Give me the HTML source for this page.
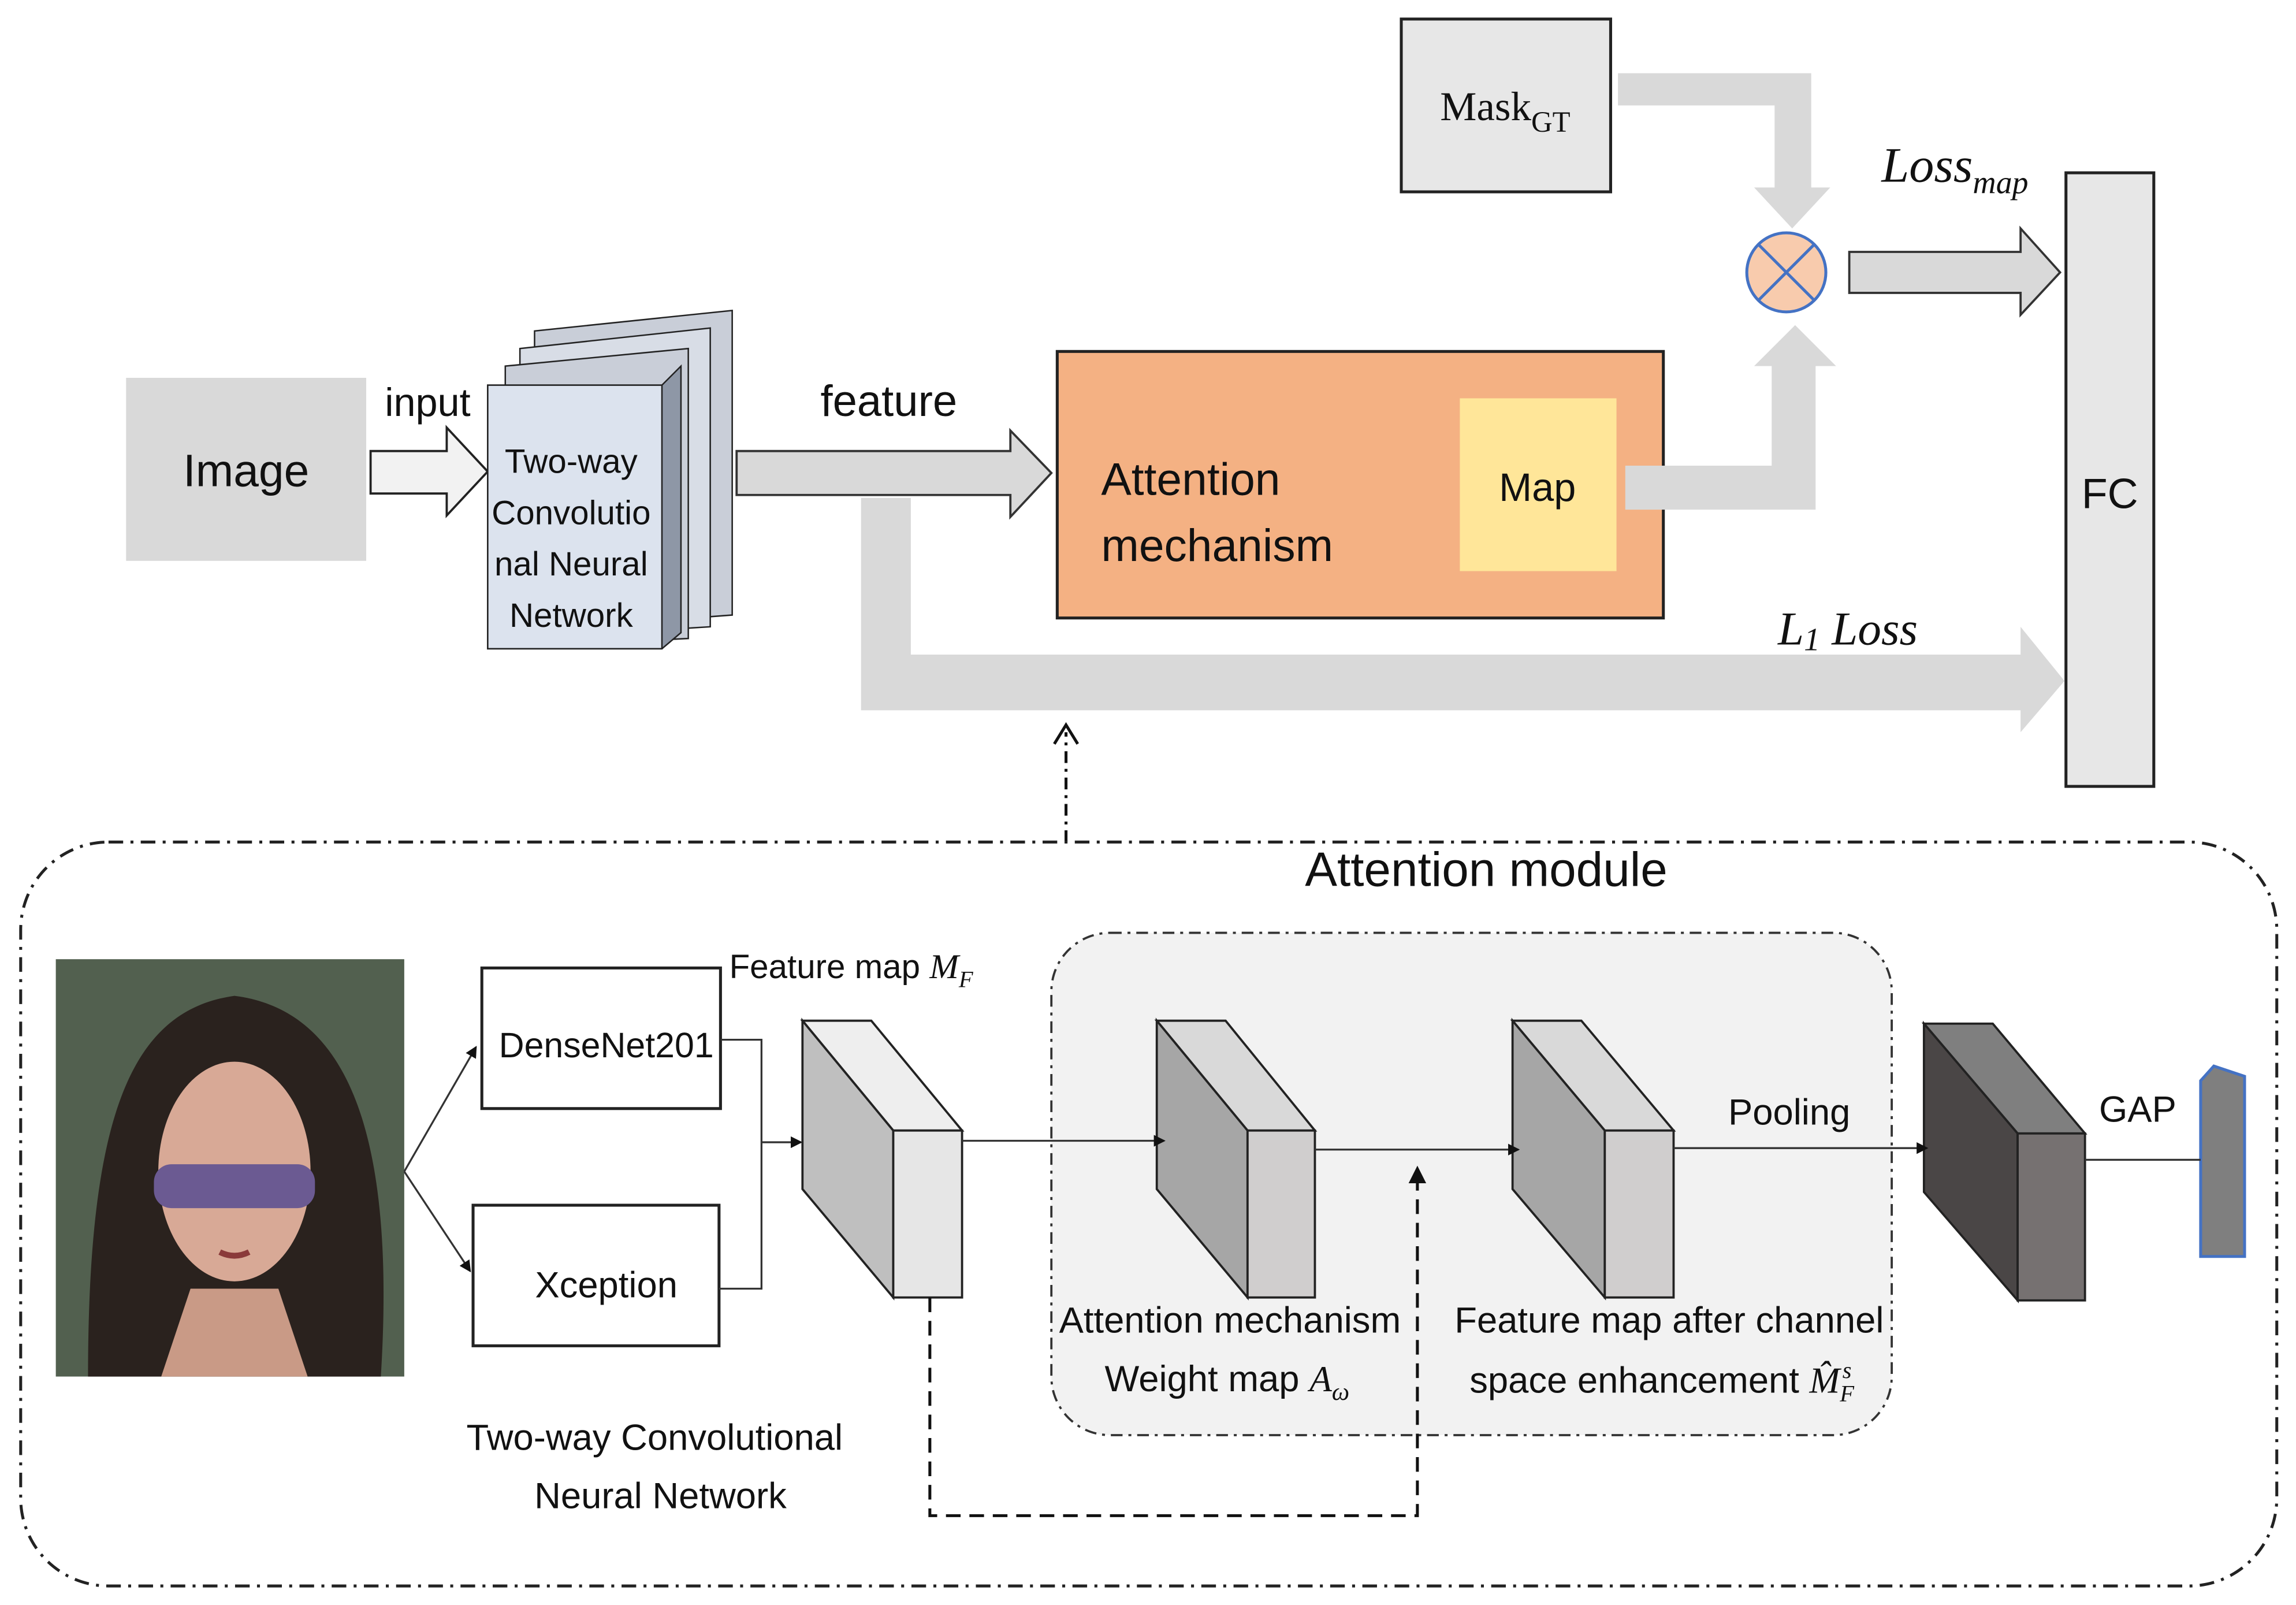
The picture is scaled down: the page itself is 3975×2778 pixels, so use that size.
<!DOCTYPE html>
<html><head><meta charset="utf-8"><style>
html,body{margin:0;padding:0;background:#fff;}
svg{display:block;}
text{font-family:"Liberation Sans",sans-serif;fill:#111;}
.s{font-family:"Liberation Serif",serif;font-style:italic;}
</style></head><body>
<svg width="3975" height="2778" viewBox="0 0 1568 1096" xmlns="http://www.w3.org/2000/svg">
<defs>
<marker id="ah" markerWidth="8" markerHeight="8" refX="7" refY="4" orient="auto" markerUnits="userSpaceOnUse"><path d="M0,0 L8,4 L0,8 z" fill="#111"/></marker>
</defs>
<rect x="86" y="258" width="164" height="125" fill="#d9d9d9"/>
<text x="168" y="332" font-size="31" text-anchor="middle">Image</text>
<text x="292" y="284" font-size="27" text-anchor="middle">input</text>
<path d="M253,308 L305,308 L305,292 L333,322 L305,352 L305,337 L253,337 z" fill="#f2f2f2" stroke="#222" stroke-width="1.5"/>
<polygon points="365,226 500,212 500,420 365,430" fill="#c9ced8" stroke="#222"/>
<polygon points="355,238 485,224 485,428 355,436" fill="#d8dde6" stroke="#222"/>
<polygon points="345,250 470,238 470,436 345,442" fill="#c9ced8" stroke="#222"/>
<polygon points="333,263 452,263 465,250 465,432 452,443 333,443" fill="#8e97a6" stroke="#222"/>
<rect x="333" y="263" width="119" height="180" fill="#dce3ee" stroke="#222"/>
<g font-size="23" text-anchor="middle"><text x="390" y="323">Two-way</text><text x="390" y="358">Convolutio</text><text x="390" y="393">nal Neural</text><text x="390" y="428">Network</text></g>
<path d="M503,308 L690,308 L690,294 L718,323 L690,353 L690,338 L503,338 z" fill="#d9d9d9" stroke="#333" stroke-width="1.5"/>
<text x="607" y="284" font-size="30" text-anchor="middle">feature</text>
<path d="M588,340 L622,340 L622,447 L1380,447 L1380,428 L1410,465 L1380,500 L1380,485 L588,485 z" fill="#d9d9d9"/>
<text x="1262" y="440" font-size="32" class="s" text-anchor="middle">L<tspan font-size="22" dy="4">1</tspan><tspan dy="-4"> Loss</tspan></text>
<rect x="722" y="240" width="414" height="182" fill="#f4b183" stroke="#222" stroke-width="2"/>
<text x="752" y="338" font-size="31">Attention</text>
<text x="752" y="383" font-size="31">mechanism</text>
<rect x="997" y="272" width="107" height="118" fill="#ffe699"/>
<text x="1050" y="342" font-size="27" text-anchor="middle">Map</text>
<path d="M1110,318 L1210,318 L1210,250 L1198,250 L1226,222 L1254,250 L1240,250 L1240,348 L1110,348 z" fill="#d9d9d9"/>
<rect x="957" y="13" width="143" height="118" fill="#e7e7e7" stroke="#222" stroke-width="2"/>
<text x="1028" y="82" font-size="28" text-anchor="middle" style="font-family:'Liberation Serif',serif">Mask<tspan font-size="20" dy="8">GT</tspan></text>
<path d="M1105,50 L1237,50 L1237,128 L1250,128 L1224,156 L1198,128 L1212,128 L1212,72 L1105,72 z" fill="#d9d9d9"/>
<circle cx="1220" cy="186" r="27" fill="#f8cbad" stroke="#4472c4" stroke-width="2"/>
<line x1="1201" y1="167" x2="1239" y2="205" stroke="#4472c4" stroke-width="2"/>
<line x1="1239" y1="167" x2="1201" y2="205" stroke="#4472c4" stroke-width="2"/>
<path d="M1263,172 L1380,172 L1380,156 L1407,186 L1380,215 L1380,200 L1263,200 z" fill="#d9d9d9" stroke="#333" stroke-width="1.5"/>
<text x="1285" y="124" font-size="34" class="s">Loss<tspan font-size="22" dy="8">map</tspan></text>
<rect x="1411" y="118" width="60" height="419" fill="#e7e7e7" stroke="#222" stroke-width="2"/>
<text x="1441" y="347" font-size="29" text-anchor="middle">FC</text>
<line x1="728" y1="575" x2="728" y2="500" stroke="#111" stroke-width="2" stroke-dasharray="8,4,2,4"/>
<path d="M720,508 L728,495 L736,508" fill="none" stroke="#111" stroke-width="2"/>
<rect x="14" y="575" width="1541" height="508" rx="60" fill="none" stroke="#222" stroke-width="2" stroke-dasharray="10,5,2,5"/>
<text x="1015" y="605" font-size="33" text-anchor="middle">Attention module</text>
<rect x="718" y="637" width="574" height="343" rx="40" fill="#f2f2f2" stroke="#333" stroke-width="1.5" stroke-dasharray="8,4,2,4"/>
<rect x="38" y="655" width="238" height="285" fill="#52604f"/>
<path d="M60,940 C60,760 90,690 160,680 C240,690 270,780 260,940 z" fill="#2a221e"/>
<ellipse cx="160" cy="800" rx="52" ry="75" fill="#d8a996"/>
<rect x="105" y="795" width="110" height="30" rx="12" fill="#6b5a92"/>
<path d="M110,940 L130,880 L190,880 L210,940 z" fill="#c99a86"/>
<path d="M150,855 Q160,860 170,855" stroke="#8a3a3a" stroke-width="4" fill="none"/>
<rect x="329" y="661" width="163" height="96" fill="#fff" stroke="#222" stroke-width="2"/>
<text x="414" y="722" font-size="24" text-anchor="middle">DenseNet201</text>
<rect x="323" y="823" width="168" height="96" fill="#fff" stroke="#222" stroke-width="2"/>
<text x="414" y="886" font-size="25" text-anchor="middle">Xception</text>
<line x1="276" y1="800" x2="325" y2="715" stroke="#333" stroke-width="1.3" marker-end="url(#ah)"/>
<line x1="276" y1="800" x2="321" y2="868" stroke="#333" stroke-width="1.3" marker-end="url(#ah)"/>
<polyline points="492,710 520,710 520,880 491,880" fill="none" stroke="#333" stroke-width="1.3"/>
<line x1="520" y1="780" x2="547" y2="780" stroke="#333" stroke-width="1.3" marker-end="url(#ah)"/>
<text x="498" y="668" font-size="23">Feature map <tspan class="s" font-size="24">M</tspan><tspan class="s" font-size="16" dy="6">F</tspan></text>
<g stroke="#222" stroke-width="1.5">
<polygon points="548,697 595,697 657,772 610,772" fill="#eeeeee"/>
<polygon points="548,697 610,772 610,886 548,812" fill="#bfbfbf"/>
<rect x="610" y="772" width="47" height="114" fill="#e6e6e6"/>
<polygon points="790,697 837,697 898,772 852,772" fill="#d9d9d9"/>
<polygon points="790,697 852,772 852,886 790,812" fill="#a6a6a6"/>
<rect x="852" y="772" width="46" height="114" fill="#d0cece"/>
<polygon points="1033,697 1080,697 1143,772 1096,772" fill="#d9d9d9"/>
<polygon points="1033,697 1096,772 1096,886 1033,812" fill="#a6a6a6"/>
<rect x="1096" y="772" width="47" height="114" fill="#d0cece"/>
<polygon points="1314,699 1361,699 1424,774 1378,774" fill="#7f7f7f"/>
<polygon points="1314,699 1378,774 1378,888 1314,814" fill="#4a4646"/>
<rect x="1378" y="774" width="46" height="114" fill="#767171"/>
</g>
<polygon points="1503,738 1512,728 1533,735 1533,858 1503,858" fill="#7f7f7f" stroke="#4472c4" stroke-width="2"/>
<g stroke="#333" stroke-width="1.3">
<line x1="657" y1="779" x2="795" y2="779" marker-end="url(#ah)"/>
<line x1="898" y1="785" x2="1037" y2="785" marker-end="url(#ah)"/>
<line x1="1143" y1="784" x2="1316" y2="784" marker-end="url(#ah)"/>
<line x1="1424" y1="792" x2="1503" y2="792"/>
</g>
<polyline points="635,886 635,1035 968,1035 968,800" fill="none" stroke="#111" stroke-width="2" stroke-dasharray="10,6"/>
<path d="M962,808 L968,796 L974,808 z" fill="#111"/>
<g font-size="25" text-anchor="middle">
<text x="1222" y="768">Pooling</text>
<text x="1460" y="766">GAP</text>
<text x="840" y="910">Attention mechanism</text>
<text x="838" y="950">Weight map <tspan class="s">A</tspan><tspan class="s" font-size="17" dy="6">ω</tspan></text>
<text x="1140" y="910">Feature map after channel</text>
<text x="1135" y="951">space enhancement <tspan class="s">M̂</tspan><tspan class="s" font-size="16" dy="6">F</tspan><tspan class="s" font-size="16" dx="-8" dy="-16">s</tspan></text>
<text x="447" y="990">Two-way Convolutional</text>
<text x="451" y="1030">Neural Network</text>
</g>
</svg>
</body></html>
